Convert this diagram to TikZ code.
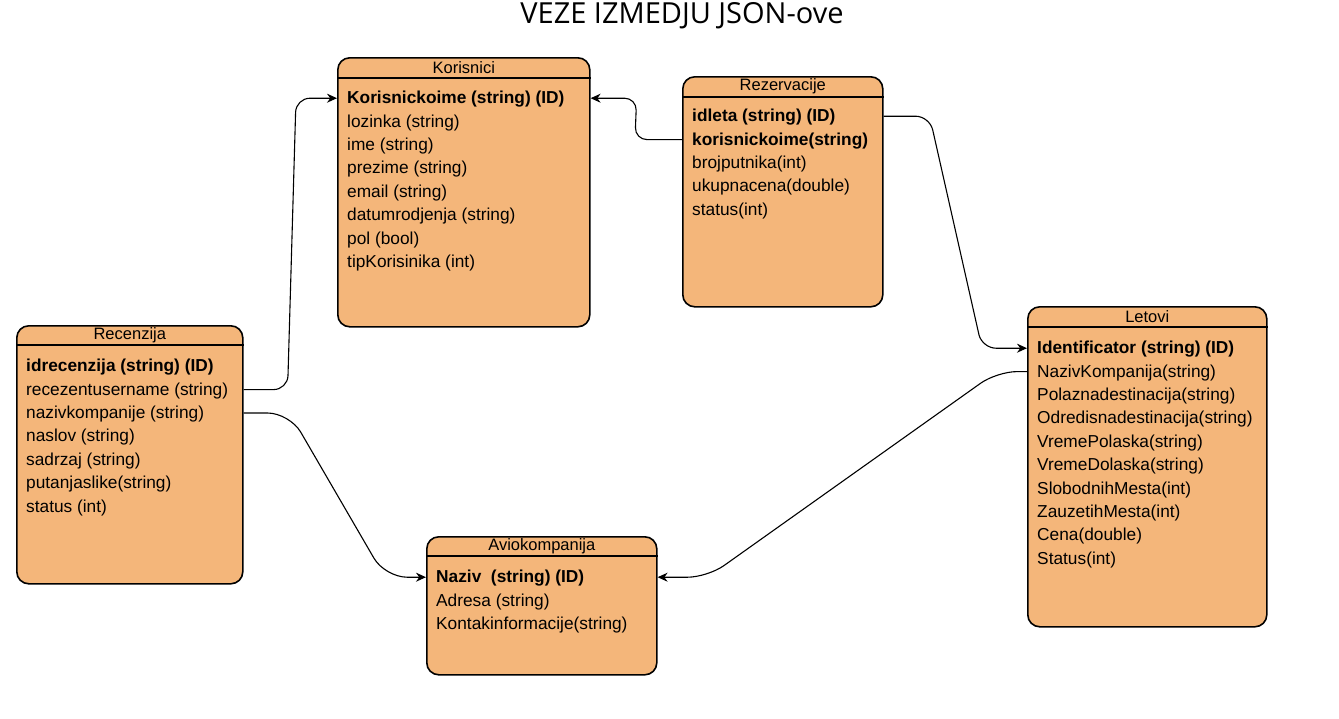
\documentclass[tikz,border=0pt]{standalone}
\usepackage{fontspec}
\setmainfont{Liberation Sans}
\newfontfamily\titlefont{Open Sans}
\usepackage{tikz}
\usetikzlibrary{arrows.meta}
\usetikzlibrary{calc}
\definecolor{entityfill}{RGB}{244,182,122}

\begin{document}
\begin{tikzpicture}[x=1pt,y=-1pt,entity/.style={draw,line width=1.6pt,rounded corners=12pt,fill=entityfill,anchor=north west,inner sep=0pt},head/.style={font=\fontsize{16.5}{18}\selectfont,inner sep=0pt},field/.style={font=\fontsize{17.3}{20}\selectfont,anchor=north west,inner sep=0pt,text height=17pt,text depth=6pt},link/.style={draw,line width=1.1pt,rounded corners=14pt,-{Stealth[length=10pt,width=9pt]}}]
  \useasboundingbox (0,0) rectangle (1339,718);
  \node[font=\titlefont\fontsize{29}{32}\selectfont] (title) at (682,16) {VEZE IZMEDJU JSON-ove};

  %Korisnici
  \node[entity,minimum width=252pt,minimum height=269pt] (kor) at (337,57) {};
  \draw[line width=1.6pt] ([yshift=-21pt]kor.north west) -- ([yshift=-21pt]kor.north east);
  \node[head,at={([yshift=-10.5pt]kor.north)}] (kor-title) {Korisnici};
  \node[field,at={([xshift=10pt,yshift=-29.5pt]kor.north west)}] (kor-1) {\textbf{Korisnickoime (string) (ID)}};
  \node[field,at=(kor-1.south west)] (kor-2) {lozinka (string)};
  \node[field,at=(kor-2.south west)] (kor-3) {ime (string)};
  \node[field,at=(kor-3.south west)] (kor-4) {prezime (string)};
  \node[field,at=(kor-4.south west)] (kor-5) {email (string)};
  \node[field,at=(kor-5.south west)] (kor-6) {datumrodjenja (string)};
  \node[field,at=(kor-6.south west)] (kor-7) {pol (bool)};
  \node[field,at=(kor-7.south west)] (kor-8) {tipKorisinika (int)};

  %Rezervacije
  \node[entity,minimum width=200pt,minimum height=230pt] (rez) at (682,76) {};
  \draw[line width=1.6pt] ([yshift=-21pt]rez.north west) -- ([yshift=-21pt]rez.north east);
  \node[head,at={([yshift=-10.5pt]rez.north)}] (rez-title) {Rezervacije};
  \node[field,at={([xshift=10pt,yshift=-28.5pt]rez.north west)}] (rez-1) {\textbf{idleta (string) (ID)}};
  \node[field,at=(rez-1.south west)] (rez-2) {\textbf{korisnickoime(string)}};
  \node[field,at=(rez-2.south west)] (rez-3) {brojputnika(int)};
  \node[field,at=(rez-3.south west)] (rez-4) {ukupnacena(double)};
  \node[field,at=(rez-4.south west)] (rez-5) {status(int)};

  %Recenzija
  \node[entity,minimum width=226pt,minimum height=258pt] (rec) at (16,325) {};
  \draw[line width=1.6pt] ([yshift=-20pt]rec.north west) -- ([yshift=-20pt]rec.north east);
  \node[head,at={([yshift=-10pt]rec.north)}] (rec-title) {Recenzija};
  \node[field,at={([xshift=10pt,yshift=-29.5pt]rec.north west)}] (rec-1) {\textbf{idrecenzija (string) (ID)}};
  \node[field,at=(rec-1.south west)] (rec-2) {recezentusername (string)};
  \node[field,at=(rec-2.south west)] (rec-3) {nazivkompanije (string)};
  \node[field,at=(rec-3.south west)] (rec-4) {naslov (string)};
  \node[field,at=(rec-4.south west)] (rec-5) {sadrzaj (string)};
  \node[field,at=(rec-5.south west)] (rec-6) {putanjaslike(string)};
  \node[field,at=(rec-6.south west)] (rec-7) {status (int)};

  %Letovi
  \node[entity,minimum width=239pt,minimum height=320pt] (let) at (1027,306) {};
  \draw[line width=1.6pt] ([yshift=-21pt]let.north west) -- ([yshift=-21pt]let.north east);
  \node[head,at={([yshift=-11pt]let.north)}] (let-title) {Letovi};
  \node[field,at={([xshift=10pt,yshift=-30.5pt]let.north west)}] (let-1) {\textbf{Identificator (string) (ID)}};
  \node[field,at=(let-1.south west)] (let-2) {NazivKompanija(string)};
  \node[field,at=(let-2.south west)] (let-3) {Polaznadestinacija(string)};
  \node[field,at=(let-3.south west)] (let-4) {Odredisnadestinacija(string)};
  \node[field,at=(let-4.south west)] (let-5) {VremePolaska(string)};
  \node[field,at=(let-5.south west)] (let-6) {VremeDolaska(string)};
  \node[field,at=(let-6.south west)] (let-7) {SlobodnihMesta(int)};
  \node[field,at=(let-7.south west)] (let-8) {ZauzetihMesta(int)};
  \node[field,at=(let-8.south west)] (let-9) {Cena(double)};
  \node[field,at=(let-9.south west)] (let-10) {Status(int)};

  %Aviokompanija
  \node[entity,minimum width=230pt,minimum height=138pt] (avio) at (426,536) {};
  \draw[line width=1.6pt] ([yshift=-20pt]avio.north west) -- ([yshift=-20pt]avio.north east);
  \node[head,at={([yshift=-10pt]avio.north)}] (avio-title) {Aviokompanija};
  \node[field,at={([xshift=10pt,yshift=-29.5pt]avio.north west)}] (avio-1) {\textbf{Naziv\ \ (string) (ID)}};
  \node[field,at=(avio-1.south west)] (avio-2) {Adresa (string)};
  \node[field,at=(avio-2.south west)] (avio-3) {Kontakinformacije(string)};

  %veze
  \draw[link] (rec-2 -| rec.east) -- ++(44,0) -- ($(kor-1 -| kor.west)+(-41,0)$) -- (kor-1 -| kor.west);
  \draw[link,rounded corners=22pt] (rec-3 -| rec.east) -- ++(46,0) -- ($(avio-1 -| avio.west)+(-41,0)$) -- (avio-1 -| avio.west);
  \draw[link,rounded corners=12pt] (rez-2 -| rez.west) -- ++(-47,0) -- ($(kor-1 -| kor.east)+(46,0)$) -- (kor-1 -| kor.east);
  \draw[link] (rez-1 -| rez.east) -- ++(46,0) -- ($(let-1 -| let.west)+(-45,0)$) -- (let-1 -| let.west);
  \draw[link,rounded corners=20pt] (let-2 -| let.west) -- ++(-30,0) -- ($(avio-1 -| avio.east)+(50,0)$) -- (avio-1 -| avio.east);
\end{tikzpicture}
\end{document}
